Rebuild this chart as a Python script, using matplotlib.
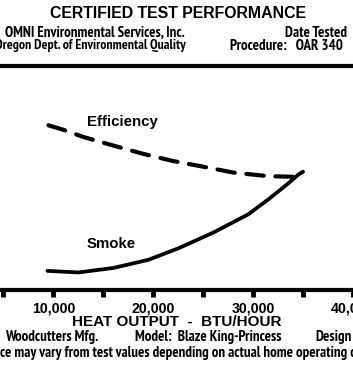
import matplotlib
matplotlib.use("Agg")
import matplotlib.pyplot as plt
from matplotlib import font_manager
from matplotlib.lines import Line2D


# heat output in BTU/hour, curve heights in relative units (0 = axis, 100 = top rule)
efficiency_btu = [9500, 11000, 13000, 16000, 19000, 22000, 25000, 28000, 31500, 35000]
efficiency = [73.2, 71.2, 68.0, 64.2, 60.5, 57.3, 54.8, 52.2, 50.6, 50.2]

smoke_btu = [9400, 12500, 16000, 19500, 22500, 26000, 29500, 31500, 33500, 34500, 35000]
smoke = [8.5, 7.8, 9.8, 13.4, 18.5, 25.5, 33.6, 40.2, 47.3, 51.2, 52.6]

tick_values = [5000, 10000, 15000, 20000, 25000, 30000, 35000, 40000]
tick_labels = ["", "10,000", "", "20,000", "", "30,000", "", "40,000"]

title = "CERTIFIED TEST PERFORMANCE"
header_left = ["OMNI Environmental Services, Inc.", "Oregon Dept. of Environmental Quality"]
header_right = ["Date Tested", "Procedure:   OAR 340"]
xlabel = "HEAT OUTPUT  -  BTU/HOUR"
footer = ["Woodcutters Mfg.", "Model:  Blaze King-Princess", "Design"]
note = "ce may vary from test values depending on actual home operating conditions"

W, H = 353, 375


def has_bold(family):
    for f in font_manager.fontManager.ttflist:
        if f.name == family and f.weight in (700, "bold") and f.style == "normal":
            return True
    return False


narrow_family = "DejaVu Sans"
for cand in ["PT Sans Narrow", "Barlow Semi Condensed", "IBM Plex Sans Condensed",
             "Encode Sans Condensed", "Asap Condensed", "Pragati Narrow",
             "Saira Condensed", "Archivo Narrow", "Roboto Condensed"]:
    if has_bold(cand):
        narrow_family = cand
        break
narrow = dict(family=narrow_family, fontweight="bold")
wide = dict(family="Liberation Sans", fontweight="bold")


def fx(px):
    return px / W


def fy(py):
    return 1 - py / H


fig = plt.figure(figsize=(W / 100, H / 100), dpi=100)

ax = fig.add_axes([0, fy(290), 1, (290 - 65) / H])
ax.plot(efficiency_btu, efficiency, color="black", lw=3.0, dashes=(4.2, 2.8),
        dash_capstyle="round", dash_joinstyle="round")
ax.plot(smoke_btu, smoke, color="black", lw=2.7, solid_capstyle="round",
        solid_joinstyle="round")
ax.set_xlim(4650, 39950)
ax.set_ylim(0, 100)

ax.text(13350, 74.7, "Efficiency", fontsize=10.8, va="center", ha="left", **wide)
ax.text(13350, 20.4, "Smoke", fontsize=10.8, va="center", ha="left", **wide)

for side in ["left", "right", "top"]:
    ax.spines[side].set_visible(False)
ax.spines["bottom"].set_linewidth(3.0)
ax.set_yticks([])
ax.set_xticks(tick_values)
ax.set_xticklabels(tick_labels)
ax.tick_params(axis="x", direction="out", length=5, width=3.5, pad=3.5)
for lab in ax.get_xticklabels():
    lab.set_fontsize(10.2)
    lab.set_fontfamily("Liberation Sans")
    lab.set_fontweight("bold")

# header
fig.text(fx(178), fy(14), title, ha="center", va="center", fontsize=11.4, **wide)
fig.add_artist(Line2D([0, 1], [fy(65.5), fy(65.5)], transform=fig.transFigure,
                      color="black", lw=3.0))
fig.text(fx(177), fy(322), xlabel, ha="center", va="center", fontsize=11, **wide)

# condensed lines: size the font so a line spans its width in the scan
fig.canvas.draw()
renderer = fig.canvas.get_renderer()


def fitted(x, y, s, width):
    t = fig.text(fx(x), fy(y), s, ha="left", va="center", fontsize=10, **narrow)
    w = t.get_window_extent(renderer).width
    t.set_fontsize(10 * width / w)
    return t


size = fitted(5, 33, header_left[0], 180).get_fontsize()
fitted(-5, 46, header_left[1], 190)
fig.text(fx(285), fy(33), header_right[0], ha="left", va="center", fontsize=size, **narrow)
fig.text(fx(230), fy(46), header_right[1], ha="left", va="center", fontsize=size, **narrow)

fig.text(fx(5), fy(337), footer[0], ha="left", va="center", fontsize=size, **narrow)
fig.text(fx(135), fy(337), footer[1], ha="left", va="center", fontsize=size, **narrow)
fig.text(fx(315), fy(337), footer[2], ha="left", va="center", fontsize=size, **narrow)
fig.text(fx(0), fy(353), note, ha="left", va="center", fontsize=size, **narrow)

fig.savefig("out.png", dpi=100)
